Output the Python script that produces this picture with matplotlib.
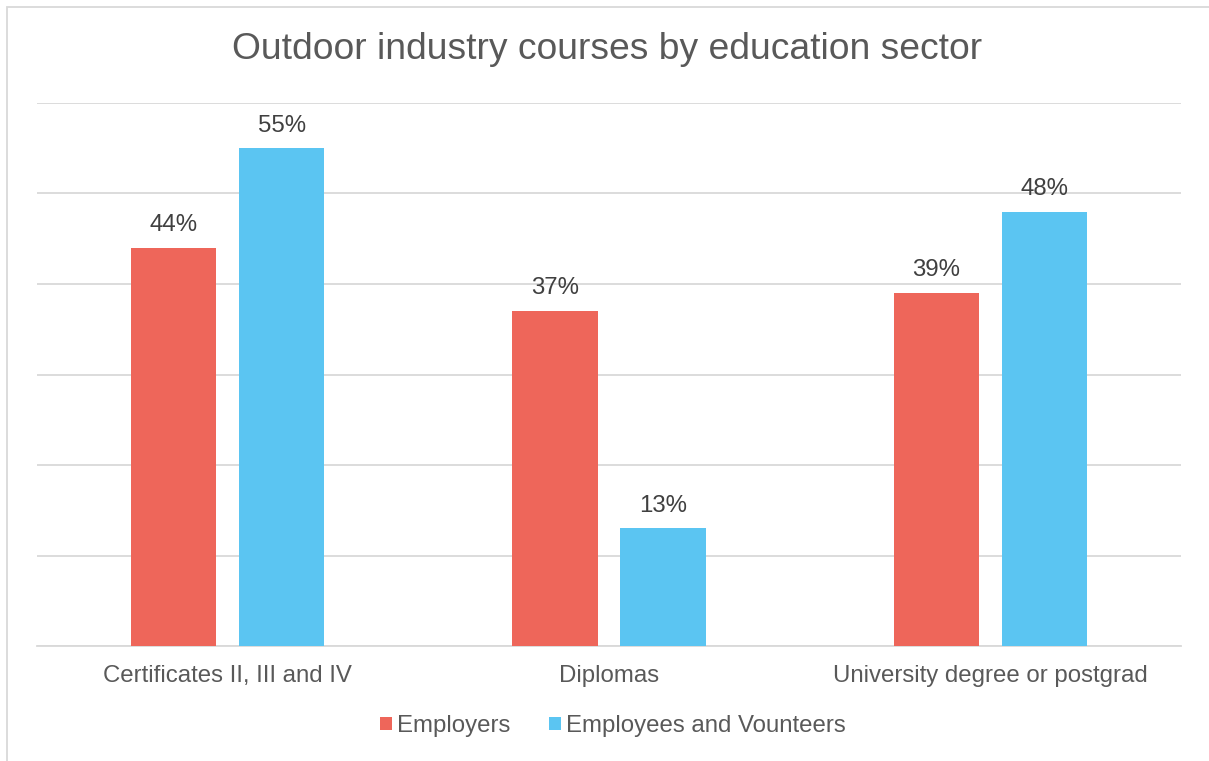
import matplotlib.pyplot as plt
import numpy as np
from matplotlib.patches import Rectangle

plt.rcParams["font.family"] = ["Liberation Sans", "DejaVu Sans"]

categories = ["Certificates II, III and IV", "Diplomas", "University degree or postgrad"]
series_names = ["Employers", "Employees and Vounteers"]
employers = [44, 37, 39]
employees = [55, 13, 48]
colors = ["#EE665A", "#5BC5F2"]

fig = plt.figure(figsize=(12.09, 7.61), dpi=100)
ax = fig.add_axes([37 / 1209, 1 - 646 / 761, 1144 / 1209, 543 / 761])

x = np.arange(len(categories))
width = 0.223
offset = 0.1416
for vals, off, color, name in zip([employers, employees], [-offset, offset], colors, series_names):
    bars = ax.bar(x + off, vals, width, color=color, label=name, zorder=3)
    for b, v in zip(bars, vals):
        ax.text(b.get_x() + b.get_width() / 2, v + 1.85, f"{v}%", ha="center", va="baseline",
                fontsize=17.3, color="#404040")

ax.set_xlim(-0.5, 2.5)
ax.set_ylim(0, 60)
ax.set_yticks(np.arange(0, 61, 10))
ax.yaxis.grid(True, color="#D9D9D9", linewidth=1.3, zorder=0)
ax.tick_params(axis="y", left=False, labelleft=False)
ax.tick_params(axis="x", length=0, pad=14, labelsize=17.3, labelcolor="#595959")
ax.set_xticks(x)
ax.set_xticklabels(categories)
for s in ["top", "right", "left"]:
    ax.spines[s].set_visible(False)
ax.spines["bottom"].set_color("#D9D9D9")
ax.spines["bottom"].set_linewidth(1.3)

fig.text(0.5 + 3 / 1209, 1 - 59 / 761, "Outdoor industry courses by education sector", ha="center",
         va="baseline", fontsize=26.8, color="#595959")

leg = fig.legend(loc="center", bbox_to_anchor=(613 / 1209, 1 - 726 / 761), ncol=2, frameon=False,
                 fontsize=17.3, handlelength=0.5, handleheight=0.5, handletextpad=0.2,
                 columnspacing=1.6)
for t in leg.get_texts():
    t.set_color("#595959")

# outer chart border
fig.add_artist(Rectangle((7 / 1209, -0.01), 1.1, 1 - 7 / 761 + 0.01, transform=fig.transFigure,
                         fill=False, edgecolor="#D9D9D9", linewidth=1.3))

fig.savefig("out.png", dpi=100, facecolor="white")
